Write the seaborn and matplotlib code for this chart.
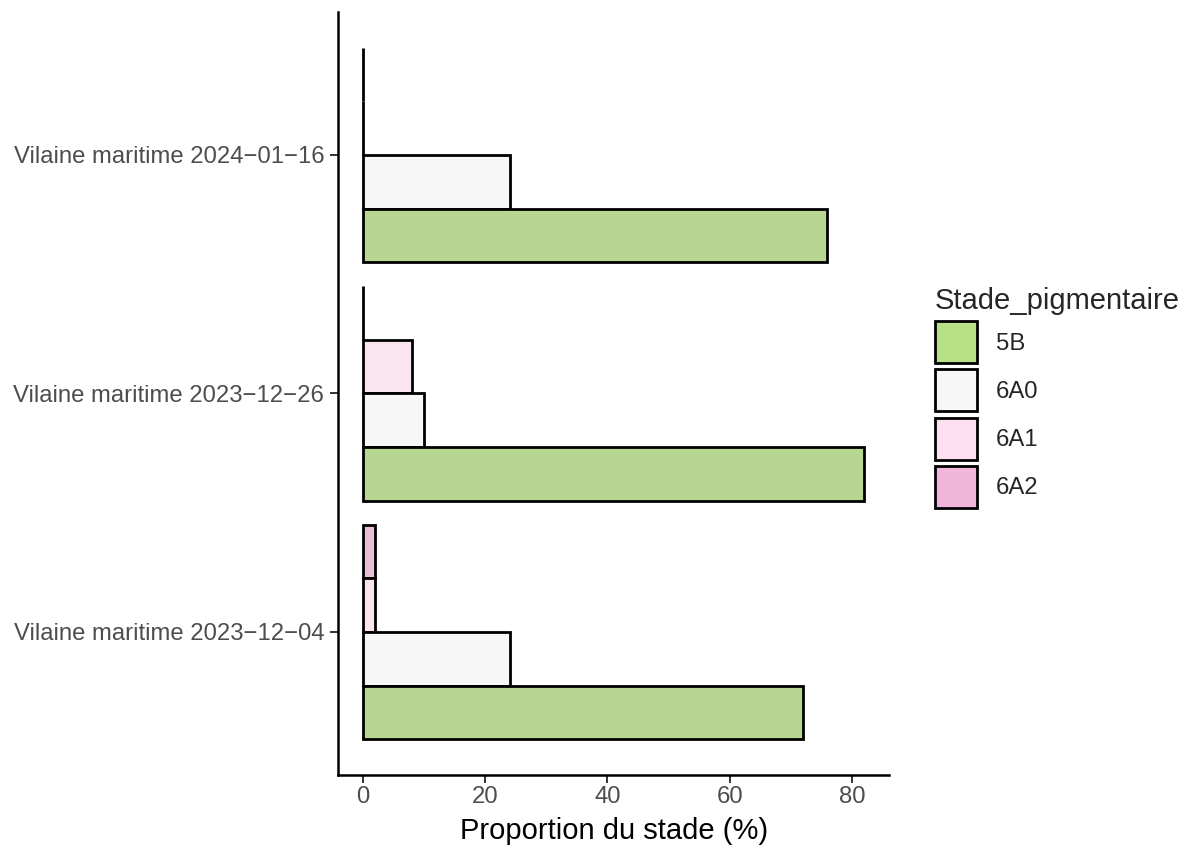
import matplotlib
import numpy as np
import pandas as pd
import seaborn as sns
from matplotlib import pyplot as plt
from matplotlib.patches import Patch

sites = [
    "Vilaine maritime 2024\u221201\u221216",
    "Vilaine maritime 2023\u221212\u221226",
    "Vilaine maritime 2023\u221212\u221204",
]
stades = ["5B", "6A0", "6A1", "6A2"]
colors = ["#B8E186", "#F7F7F7", "#FDE0EF", "#F1B6DA"]

# proportion (%) per site, one list per stade
val_5b = [76, 82, 72]
val_6a0 = [24, 10, 24]
val_6a1 = [0, 8, 2]
val_6a2 = [0, 0, 2]

rows = []
for stade, vals in zip(stades, [val_5b, val_6a0, val_6a1, val_6a2]):
    for site, v in zip(sites, vals):
        rows.append({"site": site, "Stade_pigmentaire": stade, "prop": v})
df = pd.DataFrame(rows)

sns.set_style("white")
plt.rcParams["font.family"] = ["Liberation Sans", "DejaVu Sans"]

fig, ax = plt.subplots(figsize=(11.84, 8.48), dpi=100)
fig.subplots_adjust(left=0.2855, right=0.751, top=0.986, bottom=0.086)

# hue order reversed so 5B sits at the bottom of each group
sns.barplot(
    data=df,
    y="site",
    x="prop",
    hue="Stade_pigmentaire",
    order=sites,
    hue_order=stades[::-1],
    palette=dict(zip(stades, colors)),
    orient="h",
    width=0.9,
    gap=0,
    edgecolor="black",
    linewidth=2.0,
    errorbar=None,
    legend=False,
    ax=ax,
)

ax.set_xlim(-4.1, 86.1)
ax.set_ylim(2.6, -0.6)
ax.set_xticks([0, 20, 40, 60, 80])
ax.set_xlabel("Proportion du stade (%)", fontsize=21, color="black", labelpad=6)
ax.set_ylabel("")
ax.tick_params(axis="both", labelsize=17.2, labelcolor="#4D4D4D",
               length=5.5, width=1.4, color="#333333", direction="out",
               left=True, bottom=True, pad=2.5)
ax.tick_params(axis="y", pad=4.5)
for side in ["top", "right"]:
    ax.spines[side].set_visible(False)
for side in ["left", "bottom"]:
    ax.spines[side].set_linewidth(1.8)
    ax.spines[side].set_color("black")

handles = [Patch(facecolor=c, edgecolor="black", linewidth=2.0) for c in colors]
fig.legend(
    handles,
    stades,
    title="Stade_pigmentaire",
    loc="upper left",
    bbox_to_anchor=(935 / 1184, 1 - 287 / 848),
    frameon=False,
    fontsize=17.2,
    title_fontsize=21,
    handlelength=1.76,
    handleheight=2.33,
    labelspacing=0.26,
    handletextpad=0.78,
    borderpad=0,
    borderaxespad=0,
    alignment="left",
)

fig.savefig("out.png", dpi=100)
